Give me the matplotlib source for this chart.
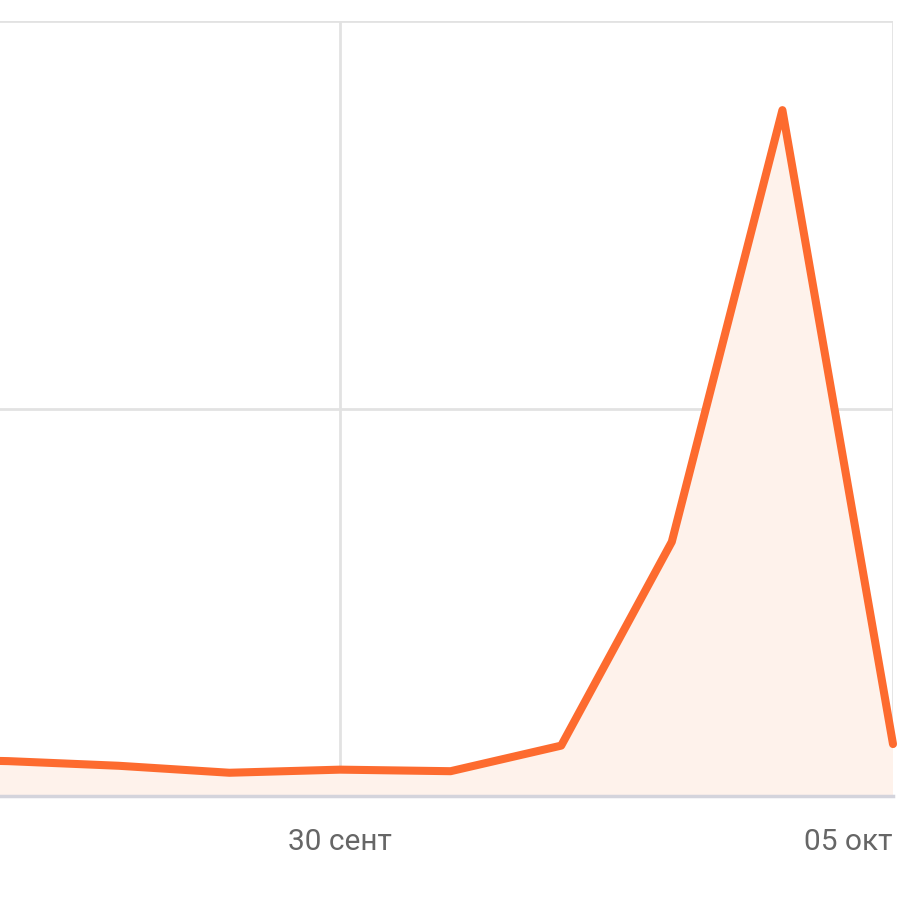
import datetime
import matplotlib
matplotlib.use("Agg")
import matplotlib.pyplot as plt
import matplotlib.dates as mdates

# ---------- DATA --------------
days = ["2023-09-26", "2023-09-27", "2023-09-28", "2023-09-29", "2023-09-30",
        "2023-10-01", "2023-10-02", "2023-10-03", "2023-10-04", "2023-10-05"]
values = [4.8, 4.5, 3.9, 3.0, 3.4, 3.2, 6.5, 32.8, 88.5, 6.7]
tick_days = ["2023-09-30", "2023-10-05"]
tick_labels = ["30 сент", "05 окт"]
# ------------------------------

fmt = "%Y-%m-%d"
x = mdates.date2num([datetime.datetime.strptime(d, fmt) for d in days])
xt = mdates.date2num([datetime.datetime.strptime(d, fmt) for d in tick_days])

plt.rcParams['font.family'] = ['Roboto', 'DejaVu Sans']

fig = plt.figure(figsize=(9.14, 9.12), dpi=100)
ax = fig.add_axes([0, (912 - 797) / 912, 893 / 914, (797 - 22) / 912])

ax.fill_between(x, values, 0, color="#fef2eb", zorder=1)
ax.plot(x, values, color="#fd6b2f", lw=5.8, solid_joinstyle="round",
        solid_capstyle="round", zorder=3, clip_on=False)

ax.set_xlim(xt[0] - 3.074, xt[1])
ax.set_ylim(0, 100)
ax.set_yticks([0, 50, 100])
ax.set_xticks(xt)
ax.set_xticklabels(tick_labels)
ax.grid(True, color="#e2e2e2", lw=2, zorder=0)
ax.set_axisbelow(True)

for s in ["left", "top", "right"]:
    ax.spines[s].set_visible(False)
ax.spines["bottom"].set_color("#d4d4dc")
ax.spines["bottom"].set_linewidth(2.5)

ax.tick_params(axis="y", left=False, labelleft=False)
ax.tick_params(axis="x", length=0, pad=22, labelsize=21.5, labelcolor="#666666")
labs = ax.get_xticklabels()
labs[-1].set_ha("right")

fig.savefig("out.png", dpi=100)
